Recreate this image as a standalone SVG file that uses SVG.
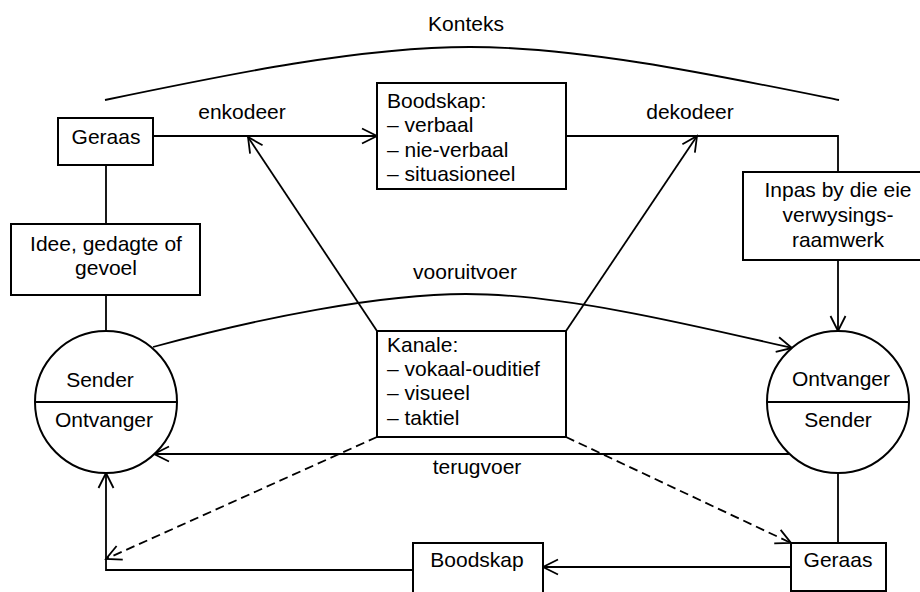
<svg xmlns="http://www.w3.org/2000/svg" width="920" height="592" viewBox="0 0 920 592">
<style>
text{font-family:"Liberation Sans",Arial,sans-serif;font-size:21px;fill:#000}
.c{text-anchor:middle}
.box{fill:#fff;stroke:#000;stroke-width:2}
.ln{fill:none;stroke:#000;stroke-width:1.8}
.dash{fill:none;stroke:#000;stroke-width:1.8;stroke-dasharray:9,5}
</style>
<defs>
<marker id="arr" markerUnits="userSpaceOnUse" markerWidth="20" markerHeight="20" viewBox="-18 -10 20 20" refX="0" refY="0" orient="auto">
<path d="M-15,-7.5 L0,0 L-15,7.5" fill="none" stroke="#000" stroke-width="1.8"/>
</marker>
</defs>
<rect width="920" height="592" fill="#fff"/>
<g id="connectors">
<path class="ln" d="M105,100 C230,74 360,47 470,47 C580,47 710,74 839,100"/>
<line class="ln" x1="153" y1="136" x2="377" y2="136" marker-end="url(#arr)"/>
<line class="ln" x1="106" y1="165" x2="106" y2="224"/>
<line class="ln" x1="106" y1="295" x2="106" y2="331"/>
<polyline class="ln" points="566,136 838,136 838,172"/>
<line class="ln" x1="838" y1="260" x2="838" y2="331" marker-end="url(#arr)"/>
<line class="ln" x1="377" y1="331" x2="248" y2="137" marker-end="url(#arr)"/>
<line class="ln" x1="566" y1="331" x2="697" y2="136" marker-end="url(#arr)"/>
<path class="ln" d="M153,347 C260,318 380,294 466,294 C560,294 680,322 792,348" marker-end="url(#arr)"/>
<line class="ln" x1="790" y1="454" x2="154" y2="454" marker-end="url(#arr)"/>
<line class="ln" x1="838" y1="473" x2="838" y2="543"/>
<line class="ln" x1="791" y1="567" x2="543" y2="567" marker-end="url(#arr)"/>
<polyline class="ln" points="413,570 106,570 106,473" marker-end="url(#arr)"/>
<line class="dash" x1="377" y1="437" x2="106" y2="559" marker-end="url(#arr)"/>
<line class="dash" x1="566" y1="437" x2="791" y2="543" marker-end="url(#arr)"/>
</g>
<g id="konteks"><text class="c" x="466" y="31">Konteks</text></g>
<g id="lbl-enkodeer"><text class="c" x="242" y="119">enkodeer</text></g>
<g id="lbl-dekodeer"><text class="c" x="690" y="119">dekodeer</text></g>
<g id="lbl-vooruitvoer"><text class="c" x="465" y="279">vooruitvoer</text></g>
<g id="lbl-terugvoer"><text class="c" x="477" y="474">terugvoer</text></g>
<g id="geraas1">
<rect class="box" x="58" y="118" width="95" height="47"/>
<text class="c" x="106" y="144">Geraas</text>
</g>
<g id="idee">
<rect class="box" x="11" y="224" width="189" height="71"/>
<text class="c" x="106" y="251">Idee, gedagte of</text>
<text class="c" x="106" y="275">gevoel</text>
</g>
<g id="boodskap1">
<rect class="box" x="377" y="83" width="189" height="106"/>
<text x="387" y="108">Boodskap:</text>
<text x="387" y="132">– verbaal</text>
<text x="387" y="157">– nie-verbaal</text>
<text x="387" y="181">– situasioneel</text>
</g>
<g id="inpas">
<rect class="box" x="743" y="172" width="190" height="88"/>
<text class="c" x="838" y="197">Inpas by die eie</text>
<text class="c" x="838" y="222">verwysings-</text>
<text class="c" x="838" y="247">raamwerk</text>
</g>
<g id="kanale">
<rect class="box" x="377" y="331" width="189" height="106"/>
<text x="387" y="352">Kanale:</text>
<text x="387" y="376">– vokaal-ouditief</text>
<text x="387" y="400">– visueel</text>
<text x="387" y="425">– taktiel</text>
</g>
<g id="sender-left">
<circle class="box" cx="106" cy="402" r="71"/>
<line class="ln" x1="35" y1="402" x2="177" y2="402"/>
<text class="c" x="100" y="387">Sender</text>
<text class="c" x="104" y="427">Ontvanger</text>
</g>
<g id="ontvanger-right">
<circle class="box" cx="838" cy="402" r="71"/>
<line class="ln" x1="767" y1="402" x2="909" y2="402"/>
<text class="c" x="841" y="386">Ontvanger</text>
<text class="c" x="838" y="427">Sender</text>
</g>
<g id="boodskap2">
<rect class="box" x="413" y="543" width="130" height="60"/>
<text class="c" x="477" y="567">Boodskap</text>
</g>
<g id="geraas2">
<rect class="box" x="791" y="543" width="95" height="48"/>
<text class="c" x="838" y="567">Geraas</text>
</g>
</svg>
